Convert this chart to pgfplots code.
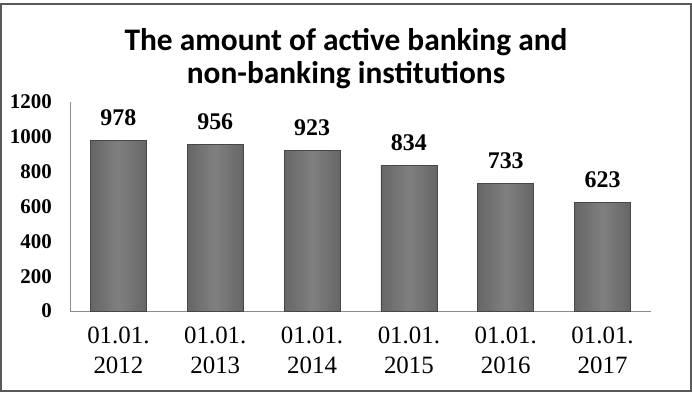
\documentclass[border=0pt]{standalone}
\usepackage{pgfplots}
\pgfplotsset{compat=1.18}
\usepackage{fontspec}
\setmainfont{Liberation Serif}
\newfontfamily\titlefont{Carlito}
\begin{document}
\begin{tikzpicture}[x=1bp,y=1bp]
\useasboundingbox (0,0) rectangle (692,392);
\fill[white] (0,0) rectangle (692,392);
\draw[black!65, line width=1.2bp] (1,1) rectangle (691,388);
\node[font=\titlefont\bfseries\fontsize{31.5}{33}\selectfont, align=center] at (346,333) {The amount of active banking and\\non-banking institutions};
\begin{axis}[
  at={(70bp,81bp)}, anchor=south west,
  scale only axis, width=581bp, height=209bp,
  xmin=-0.5, xmax=5.5, ymin=0, ymax=1200,
  axis x line*=bottom, axis y line*=left,
  axis line style={black!45, line width=0.8bp},
  major tick length=0pt,
  ytick={0,200,...,1200},
  yticklabel style={font=\bfseries\fontsize{21}{24}\selectfont, inner sep=0pt, xshift=-18bp},
  /pgf/number format/assume math mode=true,
  /pgf/number format/1000 sep={},
  xtick={0,1,2,3,4,5},
  xticklabels={{01.01.\\2012},{01.01.\\2013},{01.01.\\2014},{01.01.\\2015},{01.01.\\2016},{01.01.\\2017}},
  xticklabel style={align=center, font=\fontsize{25}{30}\selectfont, inner sep=0pt, yshift=-16bp},
  ybar, bar width=56bp, bar shift=0pt,
  nodes near coords,
  every node near coord/.append style={font=\bfseries\fontsize{24}{26}\selectfont, anchor=base, inner sep=0pt, yshift=15bp, text=black},
  mybar/.style={draw=black!72, line width=0.8bp, left color=black!60, right color=black!60, middle color=black!50},
  clip=false,
]
\addplot[mybar] coordinates {(0,978)};
\addplot[mybar] coordinates {(1,956)};
\addplot[mybar] coordinates {(2,923)};
\addplot[mybar] coordinates {(3,834)};
\addplot[mybar] coordinates {(4,733)};
\addplot[mybar] coordinates {(5,623)};
\end{axis}
\end{tikzpicture}
\end{document}
